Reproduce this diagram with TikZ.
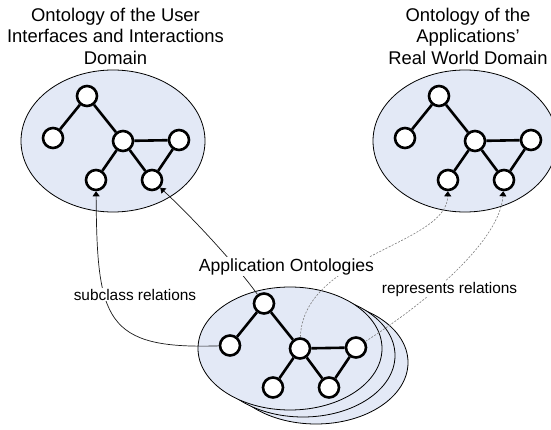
\documentclass[tikz,border=0pt]{standalone}
\usepackage{fontspec}
\setmainfont{Liberation Sans}
\usepackage{tikz}
\usetikzlibrary{arrows.meta}
\definecolor{ontofill}{RGB}{227,233,246}
\definecolor{reldark}{RGB}{25,25,25}
\definecolor{relgray}{RGB}{125,125,125}
\tikzset{
  ontoarea/.style={draw=black, fill=ontofill, line width=0.8pt},
  onode/.style={circle, draw=black, fill=white, line width=2.6pt,
    minimum size=20pt, inner sep=0pt},
  treeedge/.style={line width=2.6pt},
  subarrow/.style={-{Triangle[width=7pt,length=5pt,black]}, line width=0.7pt, color=reldark},
  reparrow/.style={-{Triangle[width=7pt,length=5pt,black]}, line width=0.6pt, color=relgray,
    dash pattern=on 2pt off 1.5pt},
  domtitle/.style={align=center, inner sep=0pt, font=\fontsize{18.4}{21.5}\selectfont},
  rellabel/.style={fill=white, inner sep=1pt, font=\fontsize{15.4}{18}\selectfont}
}
% small ontology graph: #1 name prefix, #2 #3 centre
\newcommand{\ontograph}[3]{%
  \begin{scope}[shift={(#2,#3)}]
    \node[onode] (#1top)   at (-26,-45) {};
    \node[onode] (#1left)  at (-60,-3)  {};
    \node[onode] (#1mid)   at (10,0)    {};
    \node[onode] (#1right) at (66,-1)   {};
    \node[onode] (#1bl)    at (-17,39)  {};
    \node[onode] (#1br)    at (39,39)   {};
    \draw[treeedge] (#1top) -- (#1left) (#1top) -- (#1mid) (#1mid) -- (#1right)
      (#1mid) -- (#1bl) (#1mid) -- (#1br) (#1br) -- (#1right);
  \end{scope}}

\begin{document}
\begin{tikzpicture}[x=1pt, y=-1pt]
  \useasboundingbox (0,0) rectangle (551,430);

  % Domain ontologies
  \draw[ontoarea] (113,141) ellipse [x radius=92pt, y radius=71pt];
  \draw[ontoarea] (465,141) ellipse [x radius=92pt, y radius=71pt];
  \ontograph{ui}{113}{141}
  \ontograph{rw}{465}{141}
  \node[domtitle, anchor=north] (uititle) at (115.5,7.5) {Ontology of the User\\Interfaces and Interactions\\Domain};
  \node[domtitle, anchor=north] (rwtitle) at (468,7.5) {Ontology of the\\Applications'\\Real World Domain};

  % Application ontologies (stack)
  \draw[ontoarea] (316,362.5) ellipse [x radius=92pt, y radius=61.5pt];
  \draw[ontoarea] (303,355.5) ellipse [x radius=92pt, y radius=61.5pt];
  \draw[ontoarea] (290,348.5) ellipse [x radius=92pt, y radius=61.5pt];
  \ontograph{app}{290}{348.5}

  % Relations
  \draw[subarrow] (appleft) .. controls +(-125,4) and +(1,140) .. (uibl);
  \draw[subarrow] (apptop) .. controls +(-27,-37.5) and +(44,41) .. (uibr);
  \draw[reparrow] (appmid) .. controls +(3,-93.5) and +(-1,65) .. (rwbl);
  \draw[reparrow] (appright) .. controls +(74,-47.5) and +(-4,60) .. (rwbr);

  \node[rellabel, anchor=base, font=\fontsize{17.6}{20}\selectfont] (applabel) at (286.5,271) {Application Ontologies};
  \node[rellabel, anchor=base] (sublabel) at (135,300) {subclass relations};
  \node[rellabel, anchor=base] (replabel) at (449.5,293) {represents relations};
\end{tikzpicture}
\end{document}
